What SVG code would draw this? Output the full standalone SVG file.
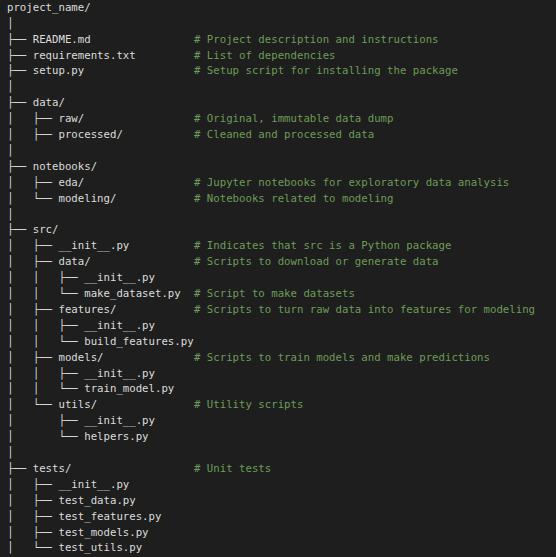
<svg xmlns="http://www.w3.org/2000/svg" width="556" height="557" viewBox="0 0 556 557">
<style>
text{font-family:"DejaVu Sans Mono","Liberation Mono",monospace;font-size:10.7px;white-space:pre}
.t{fill:#dcdcdc}
.c{fill:#6c9c57}
</style>
<rect width="556" height="557" fill="#1e1e1e"/>
<g id="tree" xml:space="preserve">
<g id="root"><text class="t" x="7" y="10.8">project_name/</text></g>
<text class="t" x="7" y="26.7">│</text>
<g id="readme"><text class="t" x="7" y="42.6">├── README.md</text><text class="c" x="194" y="42.6"># Project description and instructions</text></g>
<g id="requirements"><text class="t" x="7" y="58.5">├── requirements.txt</text><text class="c" x="194" y="58.5"># List of dependencies</text></g>
<g id="setup"><text class="t" x="7" y="74.4">├── setup.py</text><text class="c" x="194" y="74.4"># Setup script for installing the package</text></g>
<text class="t" x="7" y="90.3">│</text>
<g id="data"><text class="t" x="7" y="106.2">├── data/</text></g>
<g id="raw"><text class="t" x="7" y="122.1">│   ├── raw/</text><text class="c" x="194" y="122.1"># Original, immutable data dump</text></g>
<g id="processed"><text class="t" x="7" y="138">│   ├── processed/</text><text class="c" x="194" y="138"># Cleaned and processed data</text></g>
<text class="t" x="7" y="153.9">│</text>
<g id="notebooks"><text class="t" x="7" y="169.8">├── notebooks/</text></g>
<g id="eda"><text class="t" x="7" y="185.7">│   ├── eda/</text><text class="c" x="194" y="185.7"># Jupyter notebooks for exploratory data analysis</text></g>
<g id="modeling"><text class="t" x="7" y="201.6">│   └── modeling/</text><text class="c" x="194" y="201.6"># Notebooks related to modeling</text></g>
<text class="t" x="7" y="217.5">│</text>
<g id="src"><text class="t" x="7" y="233.4">├── src/</text></g>
<g id="src_init"><text class="t" x="7" y="249.3">│   ├── __init__.py</text><text class="c" x="194" y="249.3"># Indicates that src is a Python package</text></g>
<g id="src_data"><text class="t" x="7" y="265.2">│   ├── data/</text><text class="c" x="194" y="265.2"># Scripts to download or generate data</text></g>
<g id="data_init"><text class="t" x="7" y="281.1">│   │   ├── __init__.py</text></g>
<g id="make_dataset"><text class="t" x="7" y="297">│   │   └── make_dataset.py</text><text class="c" x="194" y="297"># Script to make datasets</text></g>
<g id="features"><text class="t" x="7" y="312.9">│   ├── features/</text><text class="c" x="194" y="312.9"># Scripts to turn raw data into features for modeling</text></g>
<g id="features_init"><text class="t" x="7" y="328.8">│   │   ├── __init__.py</text></g>
<g id="build_features"><text class="t" x="7" y="344.7">│   │   └── build_features.py</text></g>
<g id="models"><text class="t" x="7" y="360.6">│   ├── models/</text><text class="c" x="194" y="360.6"># Scripts to train models and make predictions</text></g>
<g id="models_init"><text class="t" x="7" y="376.5">│   │   ├── __init__.py</text></g>
<g id="train_model"><text class="t" x="7" y="392.4">│   │   └── train_model.py</text></g>
<g id="utils"><text class="t" x="7" y="408.3">│   └── utils/</text><text class="c" x="194" y="408.3"># Utility scripts</text></g>
<g id="utils_init"><text class="t" x="7" y="424.2">│       ├── __init__.py</text></g>
<g id="helpers"><text class="t" x="7" y="440.1">│       └── helpers.py</text></g>
<text class="t" x="7" y="456">│</text>
<g id="tests"><text class="t" x="7" y="471.9">├── tests/</text><text class="c" x="194" y="471.9"># Unit tests</text></g>
<g id="tests_init"><text class="t" x="7" y="487.8">│   ├── __init__.py</text></g>
<g id="test_data"><text class="t" x="7" y="503.7">│   ├── test_data.py</text></g>
<g id="test_features"><text class="t" x="7" y="519.6">│   ├── test_features.py</text></g>
<g id="test_models"><text class="t" x="7" y="535.5">│   ├── test_models.py</text></g>
<g id="test_utils"><text class="t" x="7" y="551.4">│   └── test_utils.py</text></g>
</g>
</svg>
